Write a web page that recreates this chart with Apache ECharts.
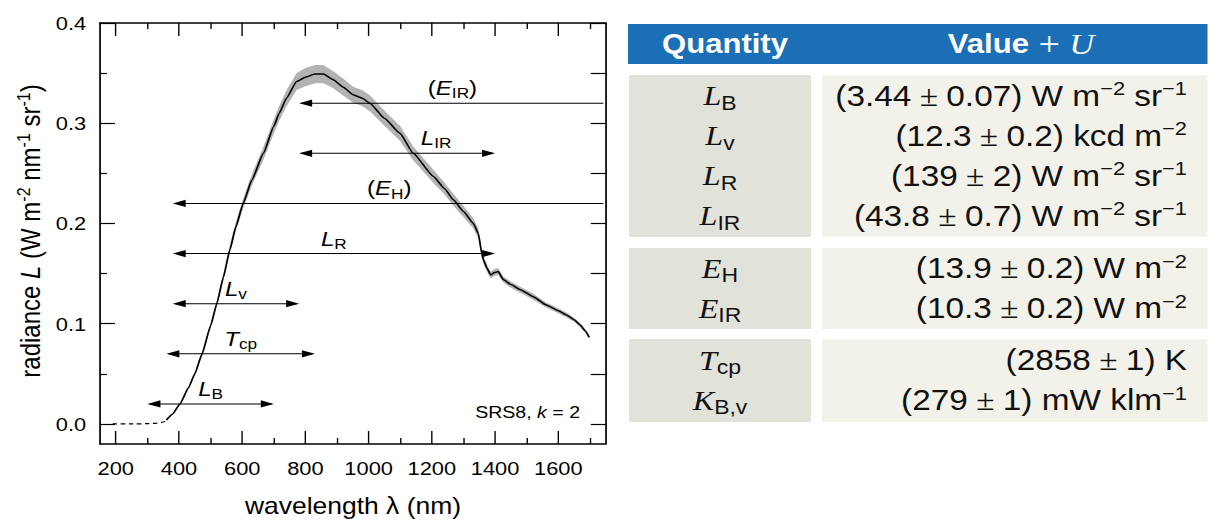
<!DOCTYPE html>
<html>
<head>
<meta charset="utf-8">
<script src="https://cdn.jsdelivr.net/npm/echarts@6/dist/echarts.min.js"></script>
<style>
  html, body { margin: 0; padding: 0; background: #fff; overflow: hidden; }
  #wrap { width: 1208px; height: 522px; overflow: hidden; }
  #chart { height: 522px; transform-origin: 0 0; }
</style>
</head>
<body>
<div id="wrap"><div id="chart"></div></div>
<script>
// ---- spectral radiance of the SRS8 source (k = 2) ----
const wavelengthUV = [190, 250, 300, 330, 350, 365];
const radianceUV   = [0, 0, 0.0003, 0.0008, 0.002, 0.004];

const wavelength = [360, 380, 403, 430, 450, 473, 500, 520, 540, 561, 580, 603, 630, 667, 700, 717, 740, 772,
  800, 830, 857, 888, 920, 951, 980, 1004, 1050, 1099, 1141, 1205, 1240, 1268, 1300, 1331, 1347, 1358, 1363,
  1375, 1386, 1398, 1410, 1426, 1450, 1480, 1521, 1560, 1600, 1626, 1650, 1669, 1685, 1698];
const radiance = [0.004, 0.010, 0.020, 0.036, 0.050, 0.070, 0.098, 0.1205, 0.146, 0.174, 0.197, 0.220, 0.243,
  0.270, 0.297, 0.310, 0.325, 0.3417, 0.346, 0.349, 0.349, 0.3434, 0.336, 0.3284, 0.325, 0.320, 0.305, 0.290,
  0.270, 0.2468, 0.235, 0.2236, 0.212, 0.2003, 0.190, 0.170, 0.1637, 0.155, 0.1487, 0.151, 0.152, 0.144, 0.139,
  0.134, 0.127, 0.119, 0.113, 0.1088, 0.104, 0.0988, 0.093, 0.0865];
// expanded uncertainty U (k = 2)
const uncertainty = [0.0005, 0.0005, 0.001, 0.001, 0.0015, 0.002, 0.0025, 0.003, 0.0035, 0.004, 0.0045, 0.005,
  0.0055, 0.0065, 0.007, 0.0075, 0.008, 0.0085, 0.009, 0.009, 0.009, 0.0085, 0.0085, 0.008, 0.008, 0.008, 0.0075,
  0.0075, 0.007, 0.0065, 0.006, 0.006, 0.0055, 0.005, 0.005, 0.004, 0.004, 0.0035, 0.0035, 0.0035, 0.0035, 0.003,
  0.003, 0.003, 0.003, 0.0025, 0.0025, 0.0025, 0.002, 0.002, 0.002, 0.002];

// axis ticks
const xMajorTicks = [200, 400, 600, 800, 1000, 1200, 1400, 1600];
const xMinorTicks = [300, 500, 700, 900, 1100, 1300, 1500, 1700];
const yMajorTicks = [0, 0.1, 0.2, 0.3, 0.4];
const yMinorTicks = [0.05, 0.15, 0.25, 0.35];
const yAllTicks   = [0, 0.05, 0.1, 0.15, 0.2, 0.25, 0.3, 0.35, 0.4];

// integration ranges (nm); null = open towards long wavelengths
const bandLabels = ['L_B', 'L_v', 'T_cp', 'L_R', 'L_IR', '(E_H)', '(E_IR)'];
const bandFrom   = [300, 380, 360, 380, 780, 380, 780];
const bandTo     = [700, 780, 830, 1400, 1400, null, null];
const bandLevel  = [0.02, 0.12, 0.07, 0.17, 0.27, 0.22, 0.32];

// results table
const tableSymbol  = ['L', 'L', 'L', 'L', 'E', 'E', 'T', 'K'];
const tableSub     = ['B', 'v', 'R', 'IR', 'H', 'IR', 'cp', 'B,v'];
const tableValue   = ['3.44', '12.3', '139', '43.8', '13.9', '10.3', '2858', '279'];
const tableU       = ['0.07', '0.2', '2', '0.7', '0.2', '0.2', '1', '1'];
const tableUnit    = ['W m^−2 sr^−1', 'kcd m^−2', 'W m^−2 sr^−1', 'W m^−2 sr^−1', 'W m^−2', 'W m^−2', 'K', 'mW klm^−1'];
const tableBlocks  = [4, 2, 2];

// ---- layout ----
const S = 1.15;                 // horizontal stretch of the figure
const X = px => px / S;         // figure x (px) -> canvas x
const X_MIN = 150, X_MAX = 1750, Y_MIN = -0.02, Y_MAX = 0.4;
const SANS = '"Liberation Sans", Arial, Helvetica, sans-serif';
const SERIF = '"Liberation Serif", "Times New Roman", serif';

const el = document.getElementById('chart');
el.style.width = (1208 / S) + 'px';
el.style.transform = 'scaleX(' + S + ')';
const chart = echarts.init(el, null, { renderer: 'svg' });

const black = '#000';
const frameLine = { show: true, onZero: false, lineStyle: { color: black, width: 1.5 } };
const noLine = { show: false, onZero: false };
const tickStyle = { color: black, width: 1.2 };

function xAxisDef(position, ticks, len, withLine, withLabel) {
  return {
    type: 'value', position, min: X_MIN, max: X_MAX,
    axisLine: withLine ? frameLine : noLine,
    axisTick: { show: true, inside: true, length: len, customValues: ticks, lineStyle: tickStyle },
    axisLabel: withLabel
      ? { show: true, customValues: ticks, fontFamily: SANS, fontSize: 19, color: black, margin: 15,
          formatter: v => String(v) }
      : { show: false },
    splitLine: { show: false }
  };
}
function yAxisDef(position, ticks, len, withLine, withLabel) {
  return {
    type: 'value', position, min: Y_MIN, max: Y_MAX,
    axisLine: withLine ? frameLine : noLine,
    axisTick: { show: true, inside: true, length: len, customValues: ticks, lineStyle: tickStyle },
    axisLabel: withLabel
      ? { show: true, customValues: ticks, fontFamily: SANS, fontSize: 19, color: black, margin: 12,
          formatter: v => v.toFixed(1) }
      : { show: false },
    splitLine: { show: false }
  };
}

// rich text: italic symbol with upright subscript
const plotRich = {
  n: { fontFamily: SANS, fontSize: 21, lineHeight: 24, fill: black },
  i: { fontFamily: SANS, fontSize: 21, fontStyle: 'italic', lineHeight: 24, fill: black },
  s: { fontFamily: SANS, fontSize: 15, lineHeight: 11, verticalAlign: 'bottom', fill: black }
};
function bandText(label) {
  const m = label.match(/^(\()?([A-Z])_(\w+)(\))?$/);
  return (m[1] ? '{n|(}' : '') + '{i|' + m[2] + '}{s|' + m[3] + '}' + (m[4] ? '{n|)}' : '');
}
const labelShift = { 'L_IR': X(39) };

const arrowData = bandFrom.map((f, i) => [f, bandTo[i] == null ? X_MAX : bandTo[i], bandLevel[i]]);

function renderArrow(params, api) {
  const i = params.dataIndex;
  const p1 = api.coord([api.value(0), api.value(2)]);
  const p2 = api.coord([api.value(1), api.value(2)]);
  const H = X(13), W = 3.6;
  const y = p1[1];
  const kids = [
    { type: 'line', shape: { x1: p1[0] + 2, y1: y, x2: p2[0] - 2, y2: y }, style: { stroke: black, lineWidth: 1 } },
    { type: 'polygon', shape: { points: [[p1[0], y], [p1[0] + H, y - W], [p1[0] + H, y + W]] }, style: { fill: black } }
  ];
  if (bandTo[i] != null) {
    kids.push({ type: 'polygon', shape: { points: [[p2[0], y], [p2[0] - H, y - W], [p2[0] - H, y + W]] }, style: { fill: black } });
  }
  const mid = (p1[0] + p2[0]) / 2 + (labelShift[bandLabels[i]] || 0);
  kids.push({
    type: 'text', x: mid, y: y - 3,
    style: { text: bandText(bandLabels[i]), rich: plotRich, align: 'center', verticalAlign: 'bottom' }
  });
  return { type: 'group', children: kids };
}

function renderBand(params, api) {
  if (params.dataIndex !== 0) return;
  const n = params.dataInsideLength;
  const pts = [];
  for (let j = 0; j < n; j++) pts.push(api.coord([api.value(0, j), api.value(2, j)]));
  for (let j = n - 1; j >= 0; j--) pts.push(api.coord([api.value(0, j), api.value(1, j)]));
  return { type: 'polygon', shape: { points: pts }, style: { fill: '#b3b3b3' } };
}

// ---- table ----
const tableRich = {
  q:   { fontFamily: SERIF, fontStyle: 'italic', fontSize: 28, lineHeight: 34, fill: '#111' },
  qs:  { fontFamily: SANS, fontSize: 20, lineHeight: 14, verticalAlign: 'bottom', fill: '#111' },
  n:   { fontFamily: SANS, fontSize: 29, lineHeight: 34, fill: '#111' },
  pm:  { fontFamily: SERIF, fontSize: 29, lineHeight: 34, fill: '#111' },
  sup: { fontFamily: SANS, fontSize: 19, lineHeight: 19, verticalAlign: 'top', fill: '#111' }
};
function unitText(u) {
  return u.split(/(\^\S+)/).filter(t => t).map(t => t[0] === '^' ? '{sup|' + t.slice(1) + '}' : '{n|' + t + '}').join('');
}
function valueText(i) {
  return '{n|(' + tableValue[i] + '}{pm| ± }{n|' + tableU[i] + ') }' + unitText(tableUnit[i]);
}

const graphics = [];
// header
graphics.push({ type: 'rect', shape: { x: X(628), y: 24, width: X(1208 - 628), height: 40 }, style: { fill: '#1b6fb6' } });
graphics.push({ type: 'text', x: X(725), y: 44, style: {
  text: '{b|Quantity}', align: 'center', verticalAlign: 'middle',
  rich: { b: { fontFamily: SANS, fontWeight: 'bold', fontSize: 27, fill: '#fff' } } } });
graphics.push({ type: 'text', x: X(1021), y: 44, style: {
  text: '{b|Value}{p| + }{u|U}', align: 'center', verticalAlign: 'middle',
  rich: {
    b: { fontFamily: SANS, fontWeight: 'bold', fontSize: 27, fill: '#fff' },
    p: { fontFamily: SERIF, fontSize: 33, fill: '#fff' },
    u: { fontFamily: SERIF, fontStyle: 'italic', fontSize: 30, fill: '#fff' }
  } } });

const blockTop = [75, 248, 339];
const blockBottom = [237, 329, 422];
const rowPitch = 40;
let row = 0;
tableBlocks.forEach((count, b) => {
  const top = blockTop[b], bottom = blockBottom[b];
  graphics.push({ type: 'rect', shape: { x: X(629), y: top, width: X(811 - 629), height: bottom - top }, style: { fill: '#e1e2da' } });
  graphics.push({ type: 'rect', shape: { x: X(822), y: top, width: X(1208 - 822), height: bottom - top }, style: { fill: '#f2f1ea' } });
  const centre = (top + bottom) / 2;
  for (let k = 0; k < count; k++, row++) {
    const y = centre + (k - (count - 1) / 2) * rowPitch;
    graphics.push({ type: 'text', x: X(720), y: y, style: {
      text: '{q|' + tableSymbol[row] + '}{qs|' + tableSub[row] + '}', rich: tableRich,
      align: 'center', verticalAlign: 'middle' } });
    graphics.push({ type: 'text', x: X(1187), y: y, style: {
      text: valueText(row), rich: tableRich, align: 'right', verticalAlign: 'middle' } });
  }
});

// axis titles and note
graphics.push({ type: 'text', x: X(353), y: 506, style: {
  text: 'wavelength λ (nm)', fontFamily: SANS, fontSize: 23, fill: black, align: 'center', verticalAlign: 'middle' } });
graphics.push({ type: 'text', x: X(30), y: 231, rotation: Math.PI / 2, style: {
  text: '{n|radiance }{i|L}{n| (W m}{u|-2}{n| nm}{u|-1}{n| sr}{u|-1}{n|)}',
  align: 'center', verticalAlign: 'middle',
  rich: {
    n: { fontFamily: SANS, fontSize: 24, lineHeight: 28, fill: black },
    i: { fontFamily: SANS, fontSize: 24, fontStyle: 'italic', lineHeight: 28, fill: black },
    u: { fontFamily: SANS, fontSize: 16, lineHeight: 15, verticalAlign: 'top', fill: black }
  } } });
graphics.push({ type: 'text', x: X(580), y: 412, style: {
  text: '{n|SRS8, }{i|k}{n| = 2}', align: 'right', verticalAlign: 'middle',
  rich: {
    n: { fontFamily: SANS, fontSize: 17, fill: black },
    i: { fontFamily: SANS, fontSize: 17, fontStyle: 'italic', fill: black }
  } } });

chart.setOption({
  animation: false,
  backgroundColor: '#fff',
  grid: { left: X(100), top: 23, width: X(505.7), height: 421, containLabel: false },
  xAxis: [
    xAxisDef('bottom', xMajorTicks, 13, true, true),
    xAxisDef('bottom', xMinorTicks, 6, false, false),
    xAxisDef('top', xMajorTicks, 13, true, false),
    xAxisDef('top', xMinorTicks, 6, false, false)
  ],
  yAxis: [
    yAxisDef('left', yMajorTicks, 13, true, true),
    yAxisDef('left', yMinorTicks, 6, false, false),
    yAxisDef('right', yAllTicks, 13, true, false)
  ],
  series: [
    {
      type: 'custom', name: 'U', xAxisIndex: 0, yAxisIndex: 0, clip: false, z: 1,
      data: wavelength.map((w, i) => [w, radiance[i] - uncertainty[i], radiance[i] + uncertainty[i]]),
      encode: { x: 0, y: [1, 2] },
      renderItem: renderBand, silent: true
    },
    {
      type: 'line', name: 'UV tail', xAxisIndex: 0, yAxisIndex: 0, z: 3,
      data: wavelengthUV.map((w, i) => [w, radianceUV[i]]),
      symbol: 'none', smooth: 0.3,
      lineStyle: { color: black, width: 1.2, type: [4, 3] }, silent: true
    },
    {
      type: 'line', name: 'L', xAxisIndex: 0, yAxisIndex: 0, z: 3,
      data: wavelength.map((w, i) => [w, radiance[i]]),
      symbol: 'none', smooth: 0.15, smoothMonotone: 'x',
      lineStyle: { color: black, width: 1.5 }, silent: true
    },
    {
      type: 'custom', name: 'ranges', xAxisIndex: 0, yAxisIndex: 0, clip: false, z: 4,
      data: arrowData, encode: { x: [0, 1], y: 2 },
      renderItem: renderArrow, silent: true
    }
  ],
  graphic: graphics
});
</script>
</body>
</html>
